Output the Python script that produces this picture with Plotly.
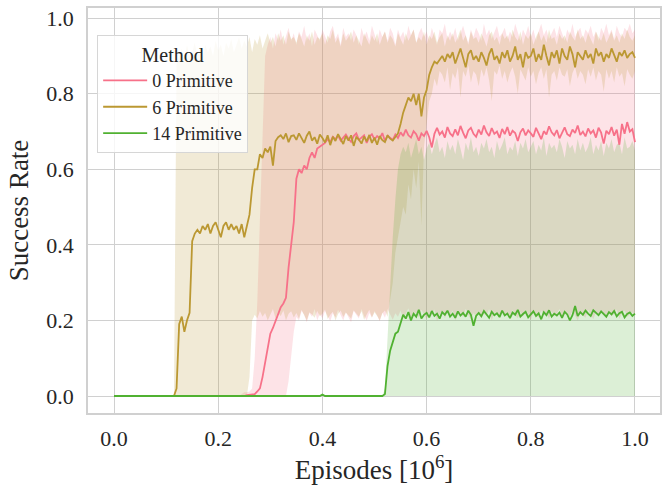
import numpy as np
import plotly.graph_objects as go

# x positions (in 10^6 episodes), sampled every 0.005
EPISODES = np.linspace(0.0, 1.0, 201)

METHODS = ["0 Primitive", "6 Primitive", "14 Primitive"]

# ---------------- 0 Primitive ----------------
P0_MEAN = [
    0, 0, 0, 0, 0, 0, 0, 0, 0, 0,
    0, 0, 0, 0, 0, 0, 0, 0, 0, 0,
    0, 0, 0, 0, 0, 0, 0, 0, 0, 0,
    0, 0, 0, 0, 0, 0, 0, 0, 0, 0,
    0, 0, 0, 0, 0, 0, 0, 0, 0, 0,
    0, .002, .003, .004, .005, .012, .02, .05, .085, .13,
    .165, .18, .2, .215, .235, .245, .26, .34, .4, .46,
    .575, .6, .59, .61, .6, .63, .645, .63, .655, .66,
    .665, .67, .68, .672, .686, .679, .69, .676, .684, .692,
    .681, .673, .688, .695, .678, .684, .69, .67, .686, .693,
    .679, .688, .682, .696, .675, .689, .684, .678, .692, .683,
    .698, .688, .705, .69, .684, .701, .693, .676, .695, .688,
    .702, .685, .658, .694, .71, .692, .7, .684, .712, .695,
    .688, .706, .69, .715, .697, .682, .703, .71, .694, .686,
    .705, .692, .716, .698, .688, .709, .694, .7, .683, .707,
    .693, .712, .689, .702, .696, .675, .698, .708, .69, .703,
    .695, .686, .71, .697, .68, .701, .692, .714, .698, .69,
    .704, .682, .699, .711, .693, .688, .705, .696, .716, .691,
    .7, .687, .708, .695, .703, .684, .71, .697, .668, .702,
    .693, .712, .689, .705, .665, .72, .694, .725, .7, .706,
    .672,
]
P0_UPPER = [
    0, 0, 0, 0, 0, 0, 0, 0, 0, 0,
    0, 0, 0, 0, 0, 0, 0, 0, 0, 0,
    0, 0, 0, 0, 0, 0, 0, 0, 0, 0,
    0, 0, 0, 0, 0, 0, 0, 0, 0, 0,
    0, 0, 0, 0, 0, 0, 0, 0, 0, .005,
    .01, .01, .012, .02, .1, .25, .45, .7, .9, .93,
    .95, .92, .96, .94, .97, .93, .955, .975, .94, .96,
    .93, .965, .95, .98, .94, .96, .925, .97, .955, .94,
    .97, .95, .935, .965, .98, .945, .96, .93, .975, .95,
    .96, .94, .97, .955, .93, .975, .95, .965, .94, .98,
    .955, .935, .97, .95, .965, .94, .975, .96, .93, .97,
    .95, .965, .94, .98, .955, .97, .935, .96, .975, .95,
    .965, .94, .975, .955, .93, .97, .96, .985, .945, .965,
    .95, .975, .94, .96, .98, .955, .935, .97, .95, .975,
    .96, .94, .985, .955, .97, .945, .965, .98, .95, .96,
    .975, .945, .965, .95, .985, .96, .94, .97, .955, .98,
    .95, .97, .94, .965, .985, .955, .97, .945, .96, .975,
    .95, .98, .96, .94, .97, .955, .985, .95, .965, .975,
    .945, .97, .96, .98, .95, .965, .94, .975, .96, .985,
    .955, .97, .945, .98, .96, .95, .975, .965, .985, .96,
    .97,
]
P0_LOWER = [
    0, 0, 0, 0, 0, 0, 0, 0, 0, 0,
    0, 0, 0, 0, 0, 0, 0, 0, 0, 0,
    0, 0, 0, 0, 0, 0, 0, 0, 0, 0,
    0, 0, 0, 0, 0, 0, 0, 0, 0, 0,
    0, 0, 0, 0, 0, 0, 0, 0, 0, 0,
    0, 0, 0, 0, 0, 0, 0, 0, 0, 0,
    0, 0, 0, 0, 0, 0, 0, .04, .1, .17,
    .21, .2, .225, .215, .195, .22, .21, .23, .2, .218,
    .205, .225, .212, .198, .22, .208, .228, .215, .2, .222,
    .21, .195, .225, .216, .205, .23, .212, .2, .22, .208,
    .225, .214, .198, .221, .207, .23, .216, .202, .219, .21,
    .226, .205, .218, .232, .2, .214, .222, .208, .228, .215,
    .203, .22, .212, .229, .198, .217, .224, .206, .221, .213,
    .227, .2, .216, .222, .209, .231, .214, .203, .22, .211,
    .225, .207, .218, .213, .23, .2, .221, .215, .208, .226,
    .212, .219, .203, .228, .214, .206, .223, .21, .229, .216,
    .201, .222, .215, .208, .227, .213, .219, .204, .224, .211,
    .218, .23, .205, .216, .221, .209, .226, .214, .2, .22,
    .213, .207, .228, .216, .203, .222, .211, .225, .218, .206,
    .223, .212, .217, .229, .204, .219, .226, .21, .215, .222,
    .214,
]

# ---------------- 6 Primitive ----------------
P6_MEAN = [
    0, 0, 0, 0, 0, 0, 0, 0, 0, 0,
    0, 0, 0, 0, 0, 0, 0, 0, 0, 0,
    0, 0, 0, 0, .02, .19, .21, .17, .2, .22,
    .41, .43, .44, .43, .45, .44, .455, .43, .45, .46,
    .44, .42, .45, .46, .44, .455, .44, .45, .43, .455,
    .42, .45, .48, .55, .6, .6, .64, .63, .655, .645,
    .66, .61, .675, .685, .69, .68, .695, .672, .688, .69,
    .678, .695, .682, .67, .689, .7, .676, .685, .668, .692,
    .683, .671, .69, .664, .686, .675, .693, .68, .667, .688,
    .676, .69, .662, .685, .679, .668, .687, .674, .691, .67,
    .684, .665, .688, .677, .672, .69, .681, .676, .686, .695,
    .72, .75, .77, .79, .78, .8, .77, .8, .74, .79,
    .81, .85, .87, .885, .88, .89, .9, .885, .905, .895,
    .91, .88, .9, .92, .895, .87, .905, .915, .89, .9,
    .885, .91, .895, .875, .905, .92, .89, .9, .88, .91,
    .895, .915, .885, .9, .925, .89, .905, .87, .91, .895,
    .9, .92, .885, .905, .89, .93, .9, .875, .91, .895,
    .915, .88, .92, .9, .89, .925, .905, .87, .91, .9,
    .89, .915, .895, .905, .88, .92, .9, .91, .885, .905,
    .895, .92, .9, .885, .91, .9, .915, .895, .905, .91,
    .895,
]
P6_UPPER = [
    0, 0, 0, 0, 0, 0, 0, 0, 0, 0,
    0, 0, 0, 0, 0, 0, 0, 0, 0, 0,
    0, 0, 0, 0, .88, .9, .92, .89, .93, .9,
    .91, .935, .9, .92, .895, .93, .91, .925, .9, .94,
    .915, .93, .9, .935, .92, .945, .91, .93, .95, .92,
    .94, .925, .95, .91, .945, .93, .955, .92, .94, .96,
    .935, .95, .925, .96, .94, .955, .93, .965, .945, .95,
    .935, .96, .945, .925, .955, .94, .965, .93, .95, .945,
    .96, .93, .955, .945, .97, .935, .95, .925, .96, .94,
    .95, .965, .935, .955, .94, .925, .96, .945, .93, .955,
    .94, .96, .93, .95, .965, .935, .955, .945, .925, .96,
    .945, .93, .96, .94, .955, .97, .935, .95, .94, .965,
    .93, .955, .945, .965, .935, .95, .96, .925, .955, .94,
    .96, .935, .95, .97, .94, .955, .93, .965, .945, .95,
    .935, .96, .945, .925, .955, .965, .94, .95, .93, .96,
    .945, .955, .935, .97, .95, .94, .965, .93, .955, .945,
    .96, .93, .95, .965, .94, .955, .935, .97, .945, .95,
    .93, .96, .945, .955, .935, .965, .95, .94, .97, .945,
    .955, .935, .96, .945, .93, .965, .95, .94, .96, .935,
    .95, .965, .94, .955, .935, .96, .945, .97, .95, .94,
    .955,
]
P6_LOWER = [
    0, 0, 0, 0, 0, 0, 0, 0, 0, 0,
    0, 0, 0, 0, 0, 0, 0, 0, 0, 0,
    0, 0, 0, 0, 0, 0, 0, 0, 0, 0,
    0, 0, 0, 0, 0, 0, 0, 0, 0, 0,
    0, 0, 0, 0, 0, 0, 0, 0, 0, 0,
    0, 0, .05, .2, .215, .205, .225, .21, .22, .2,
    .215, .23, .205, .22, .212, .226, .2, .218, .224, .208,
    .22, .205, .228, .213, .2, .222, .216, .207, .225, .211,
    .218, .229, .204, .215, .223, .2, .217, .226, .209, .221,
    .213, .205, .227, .218, .21, .224, .202, .216, .228, .207,
    .222, .212, .2, .219, .226, .21, .25, .3, .38, .42,
    .47, .5, .48, .56, .52, .6, .55, .62, .45, .66,
    .72, .78, .8, .84, .82, .86, .85, .83, .87, .81,
    .855, .84, .87, .79, .86, .845, .875, .83, .86, .85,
    .82, .865, .845, .87, .835, .78, .86, .85, .875, .84,
    .86, .83, .855, .87, .845, .8, .865, .85, .835, .87,
    .845, .86, .825, .855, .87, .84, .865, .79, .85, .86,
    .835, .87, .85, .845, .865, .82, .855, .87, .84, .86,
    .85, .825, .865, .845, .87, .835, .86, .85, .805, .865,
    .84, .86, .83, .87, .845, .855, .82, .865, .85, .84,
    .86,
]

# ---------------- 14 Primitive ----------------
P14_MEAN = [
    0, 0, 0, 0, 0, 0, 0, 0, 0, 0,
    0, 0, 0, 0, 0, 0, 0, 0, 0, 0,
    0, 0, 0, 0, 0, 0, 0, 0, 0, 0,
    0, 0, 0, 0, 0, 0, 0, 0, 0, 0,
    0, 0, 0, 0, 0, 0, 0, 0, 0, 0,
    0, 0, 0, 0, 0, 0, 0, 0, 0, 0,
    0, 0, 0, 0, 0, 0, 0, 0, 0, 0,
    0, 0, 0, 0, 0, 0, 0, 0, 0, 0,
    .004, 0, 0, 0, 0, 0, 0, 0, 0, 0,
    0, 0, 0, 0, 0, 0, 0, 0, 0, 0,
    0, 0, 0, 0, .005, .08, .12, .14, .165, .17,
    .195, .215, .205, .222, .2, .218, .21, .228, .205, .215,
    .22, .208, .225, .212, .218, .205, .222, .215, .226, .21,
    .218, .207, .224, .213, .22, .21, .226, .215, .186, .212,
    .22, .211, .225, .216, .207, .223, .214, .219, .209, .226,
    .213, .218, .206, .221, .215, .228, .21, .217, .223, .208,
    .216, .224, .212, .219, .203, .222, .214, .227, .21, .218,
    .213, .221, .207, .223, .216, .2, .214, .238, .212, .222,
    .215, .226, .218, .212, .227, .22, .214, .224, .217, .21,
    .222, .216, .225, .211, .219, .223, .208, .217, .221, .212,
    .218,
]
P14_UPPER = [
    0, 0, 0, 0, 0, 0, 0, 0, 0, 0,
    0, 0, 0, 0, 0, 0, 0, 0, 0, 0,
    0, 0, 0, 0, 0, 0, 0, 0, 0, 0,
    0, 0, 0, 0, 0, 0, 0, 0, 0, 0,
    0, 0, 0, 0, 0, 0, 0, 0, 0, 0,
    0, 0, 0, 0, 0, 0, 0, 0, 0, 0,
    0, 0, 0, 0, 0, 0, 0, 0, 0, 0,
    0, 0, 0, 0, 0, 0, 0, 0, 0, 0,
    0, 0, 0, 0, 0, 0, 0, 0, 0, 0,
    0, 0, 0, 0, 0, 0, 0, 0, 0, 0,
    0, 0, 0, 0, .02, .15, .3, .42, .52, .6,
    .64, .66, .645, .67, .63, .655, .68, .64, .66, .625,
    .655, .67, .64, .665, .685, .645, .66, .63, .675, .65,
    .665, .64, .68, .655, .625, .67, .65, .685, .645, .66,
    .635, .67, .655, .68, .645, .66, .63, .675, .65, .665,
    .685, .64, .66, .65, .675, .635, .67, .655, .68, .645,
    .66, .675, .64, .665, .65, .685, .635, .67, .655, .665,
    .645, .68, .66, .63, .675, .655, .665, .64, .68, .65,
    .67, .645, .66, .685, .64, .665, .65, .675, .635, .67,
    .655, .68, .645, .665, .67, .64, .685, .655, .66, .675,
    .65,
]
P14_LOWER = [0.0] * 201  # lower bound of the interval sits at 0 everywhere

for arr in (P0_MEAN, P0_UPPER, P0_LOWER, P6_MEAN, P6_UPPER, P6_LOWER,
            P14_MEAN, P14_UPPER):
    assert len(arr) == 201, len(arr)

X_TICKS = [0.0, 0.2, 0.4, 0.6, 0.8, 1.0]
Y_TICKS = [0.0, 0.2, 0.4, 0.6, 0.8, 1.0]

COLORS = ["#f77189", "#bb9832", "#50b131"]
FILLS = ["rgba(247,113,137,0.2)", "rgba(187,152,50,0.2)", "rgba(80,177,49,0.2)"]

series = [
    (P0_MEAN, P0_LOWER, P0_UPPER),
    (P6_MEAN, P6_LOWER, P6_UPPER),
    (P14_MEAN, P14_LOWER, P14_UPPER),
]

FONT = "Liberation Serif, Times New Roman, serif"
TEXT = "#262626"

fig = go.Figure()
for (mean, lo, hi), fc in zip(series, FILLS):
    fig.add_trace(go.Scatter(x=EPISODES, y=lo, mode="lines", line=dict(width=0),
                             showlegend=False, hoverinfo="skip"))
    fig.add_trace(go.Scatter(x=EPISODES, y=hi, mode="lines", line=dict(width=0),
                             fill="tonexty", fillcolor=fc,
                             showlegend=False, hoverinfo="skip"))
for (mean, lo, hi), name, col in zip(series, METHODS, COLORS):
    fig.add_trace(go.Scatter(x=EPISODES, y=mean, mode="lines", name=name,
                             line=dict(color=col, width=1.8)))

fig.update_layout(
    width=665, height=491,
    margin=dict(l=88, r=3, t=8, b=78),
    paper_bgcolor="white", plot_bgcolor="white",
    font=dict(family=FONT, color=TEXT, size=22),
    legend=dict(
        x=0.016, y=0.933, xanchor="left", yanchor="top",
        traceorder="normal",
        bgcolor="rgba(255,255,255,0.8)", bordercolor="#d6d6d6", borderwidth=1,
        font=dict(size=18, family=FONT, color=TEXT),
        title=dict(text="Method", side="top center",
                   font=dict(size=20, family=FONT, color=TEXT)),
        itemwidth=44,
    ),
    showlegend=True,
)
fig.update_xaxes(
    range=[-0.05, 1.048], tickvals=X_TICKS, ticktext=[f"{v:.1f}" for v in X_TICKS],
    showgrid=True, gridcolor="#d0d0d0", gridwidth=1, zeroline=False,
    showline=True, mirror=True, linecolor="#d0d0d0", linewidth=1.5,
    ticks="outside", ticklen=5, tickcolor="rgba(0,0,0,0)",
    tickfont=dict(size=22, family=FONT, color=TEXT),
    title=dict(text="Episodes [10<sup>6</sup>]", font=dict(size=27, family=FONT, color=TEXT),
               standoff=0),
)
fig.update_yaxes(
    range=[-0.045, 1.027], tickvals=Y_TICKS, ticktext=[f"{v:.1f}" for v in Y_TICKS],
    showgrid=True, gridcolor="#d0d0d0", gridwidth=1, zeroline=False,
    showline=True, mirror=True, linecolor="#d0d0d0", linewidth=1.5,
    ticks="outside", ticklen=8, tickcolor="rgba(0,0,0,0)",
    tickfont=dict(size=22, family=FONT, color=TEXT),
    title=dict(text="Success Rate", font=dict(size=27, family=FONT, color=TEXT),
               standoff=10),
)

fig.write_html("out.html")
